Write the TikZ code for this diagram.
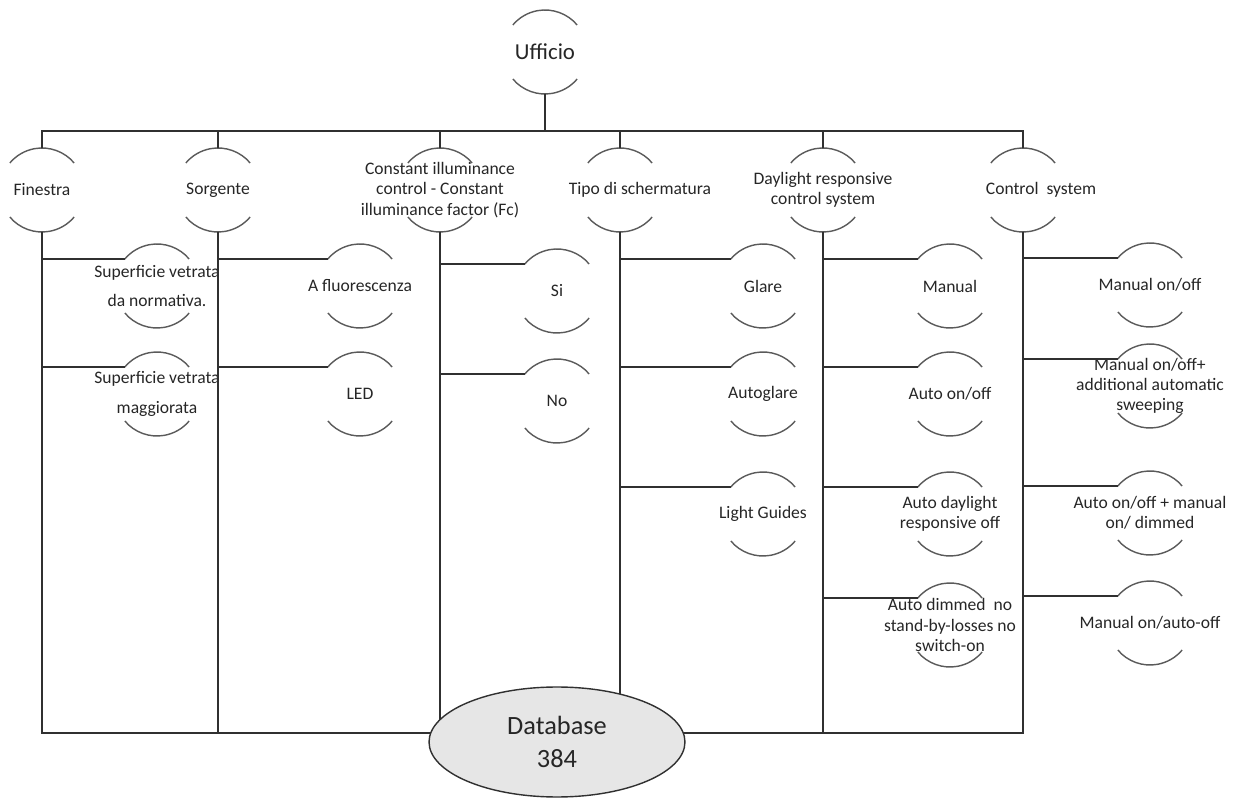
\documentclass[tikz,border=0pt]{standalone}
\usepackage{fontspec}
\setmainfont{Carlito}
\usetikzlibrary{shapes.geometric}
\definecolor{linegray}{HTML}{303030}
\definecolor{arcgray}{HTML}{5A5A5A}
\definecolor{dbfill}{HTML}{E6E6E6}
\tikzset{
  leaf/.style={circle,minimum size=1.68cm,inner sep=0pt,outer sep=0pt},
  txt/.style={font=\fontsize{10pt}{11.5pt}\selectfont,align=center,text=black!85,inner sep=0pt},
  link/.style={draw=linegray,line width=0.8pt},
  halfarc/.style={draw=arcgray,line width=0.8pt},
}

\begin{document}
\begin{tikzpicture}[x=0.02cm,y=-0.02cm]
    \useasboundingbox (0,0) rectangle (1242,800);
    % root and first level
    \node[leaf] (uff) at (545,52) {};
    \node[txt,font=\fontsize{13pt}{15pt}\selectfont] (uff-t) at (uff) {Ufficio};
    \node[leaf] (fin) at (42,190) {};
    \node[leaf] (sor) at (218,190) {};
    \node[leaf] (cil) at (440,190) {};
    \node[leaf] (tip) at (620,190) {};
    \node[leaf] (day) at (823,190) {};
    \node[leaf] (ctl) at (1023,190) {};
    \node[txt] (fin-t) at (fin) {Finestra};
    \node[txt] (sor-t) at (sor) {Sorgente};
    \node[txt] (cil-t) at (cil) {Constant illuminance\\control - Constant\\illuminance factor (Fc)};
    \node[txt] (tip-t) at ([xshift=0.4cm]tip) {Tipo di schermatura};
    \node[txt] (day-t) at (day) {Daylight responsive\\control system};
    \node[txt] (ctl-t) at ([xshift=0.36cm]ctl) {Control\ \ system};
    % second level
    \node[leaf] (fin1) at (157,286) {};
    \node[leaf] (fin2) at (157,394) {};
    \node[leaf] (sor1) at (360,286) {};
    \node[leaf] (sor2) at (360,394) {};
    \node[leaf] (cil1) at (557,291) {};
    \node[leaf] (cil2) at (557,401) {};
    \node[leaf] (tip1) at (763,286) {};
    \node[leaf] (tip2) at (763,394) {};
    \node[leaf] (tip3) at (763,514) {};
    \node[leaf] (day1) at (950,286) {};
    \node[leaf] (day2) at (950,394) {};
    \node[leaf] (day3) at (950,514) {};
    \node[leaf] (day4) at (950,625) {};
    \node[leaf] (ctl1) at (1150,285) {};
    \node[leaf] (ctl2) at (1150,386) {};
    \node[leaf] (ctl3) at (1150,513) {};
    \node[leaf] (ctl4) at (1150,623) {};
    \node[txt] (fin1-t) at (fin1) {Superficie vetrata\\[4.5pt]da normativa.};
    \node[txt] (fin2-t) at (fin2) {Superficie vetrata\\[5.5pt]maggiorata};
    \node[txt] (sor1-t) at (sor1) {A fluorescenza};
    \node[txt] (sor2-t) at (sor2) {LED};
    \node[txt] (cil1-t) at (cil1) {Si};
    \node[txt] (cil2-t) at (cil2) {No};
    \node[txt] (tip1-t) at (tip1) {Glare};
    \node[txt] (tip2-t) at (tip2) {Autoglare};
    \node[txt] (tip3-t) at (tip3) {Light Guides};
    \node[txt] (day1-t) at (day1) {Manual};
    \node[txt] (day2-t) at (day2) {Auto on/off};
    \node[txt] (day3-t) at (day3) {Auto daylight\\responsive off};
    \node[txt] (day4-t) at (day4) {Auto dimmed\ \ no\\stand-by-losses no\\switch-on};
    \node[txt] (ctl1-t) at (ctl1) {Manual on/off};
    \node[txt] (ctl2-t) at (ctl2) {Manual on/off+\\additional automatic\\sweeping};
    \node[txt] (ctl3-t) at (ctl3) {Auto on/off + manual\\on/ dimmed};
    \node[txt] (ctl4-t) at (ctl4) {Manual on/auto-off};
    % open circles
    \foreach \n in {uff,fin,sor,cil,tip,day,ctl,fin1,fin2,sor1,sor2,cil1,cil2,tip1,tip2,tip3,day1,day2,day3,day4,ctl1,ctl2,ctl3,ctl4}
        \draw[halfarc] (\n.40) arc[start angle=40,end angle=140,radius=0.84cm]
                       (\n.220) arc[start angle=220,end angle=320,radius=0.84cm];
    % connectors
    \coordinate (top) at (545,131);
    \coordinate (bot) at (557,733);
    \draw[link] (uff.south) -- (top);
    \foreach \n in {fin,sor,cil,tip,day,ctl} {
        \draw[link] (top) -| (\n.north);
        \draw[link] (\n.south) |- (bot);
    }
    \foreach \p/\c in {fin/fin1,fin/fin2,sor/sor1,sor/sor2,cil/cil1,cil/cil2,tip/tip1,tip/tip2,tip/tip3,day/day1,day/day2,day/day3,day/day4,ctl/ctl1,ctl/ctl2,ctl/ctl3,ctl/ctl4}
        \draw[link] (\p.south) |- (\c.140);
    % database
    \node[ellipse,draw=linegray,line width=0.8pt,fill=dbfill,minimum width=5.12cm,minimum height=2.2cm,
          align=center,font=\fontsize{15pt}{19pt}\selectfont,text=black!85] (db) at (557,742) {Database\\384};
\end{tikzpicture}
\end{document}
